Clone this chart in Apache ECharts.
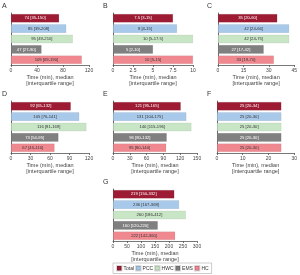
<!DOCTYPE html>
<html><head><meta charset="utf-8">
<script src="https://cdn.jsdelivr.net/npm/echarts@6/dist/echarts.min.js"></script>
<style>html,body{margin:0;padding:0;background:#fff}#c{width:300px;height:275px}</style>
</head><body><div id="c"></div>
<script>
const groups = ['Total', 'PCC', 'HWC', 'EMS', 'HC'];
const colors = ['#9e1b34', '#a9c9ea', '#c8e6c6', '#808080', '#f08890'];
const labelColors = ['#fff', '#333', '#333', '#fff', '#333'];

const panelNames = ['A', 'B', 'C', 'D', 'E', 'F', 'G'];
const medA = [74, 85, 95, 47, 109];
const iqrA = ['35-150', '39-208', '49-210', '27-90', '69-190'];
const medB = [7.5, 8, 10, 5, 10];
const iqrB = ['3-15', '4-15', '5-17.5', '2-10', '5-15'];
const medC = [35, 42, 42, 27, 33];
const iqrC = ['20-60', '24-66', '24-75', '17-42', '19-70'];
const medD = [92, 105, 116, 73, 67];
const iqrD = ['65-132', '76-141', '81-169', '54-95', '45-110'];
const medE = [121, 131, 140, 96, 95];
const iqrE = ['95-165', '104-175', '115-196', '80-132', '80-140'];
const medF = [25, 25, 25, 25, 25];
const iqrF = ['20-34', '20-30', '20-30', '20-30', '20-30'];
const medG = [219, 236, 260, 160, 222];
const iqrG = ['150-332', '167-368', '186-412', '120-220', '142-360'];

const axisMax = [120, 10, 45, 120, 150, 30, 300];
const axisStep = [40, 2.5, 15, 30, 30, 10, 50];

const meds = [medA, medB, medC, medD, medE, medF, medG];
const iqrs = [iqrA, iqrB, iqrC, iqrD, iqrE, iqrF, iqrG];

// layout
const boxes = [
  {left: 11, top: 13, width: 78},
  {left: 113, top: 13, width: 80},
  {left: 218, top: 13, width: 79},
  {left: 11, top: 101, width: 78},
  {left: 113, top: 101, width: 84},
  {left: 217, top: 101, width: 80},
  {left: 113, top: 189, width: 84}
];
const letterPos = [[2, 3], [103, 3], [207, 3], [2, 91], [103, 91], [207, 91], [103, 179]];

const grid = [], xAxis = [], yAxis = [], series = [], graphic = [];
panelNames.forEach((p, k) => {
  const b = boxes[k];
  grid.push({left: b.left, top: b.top, width: b.width, height: 52, containLabel: false});
  xAxis.push({
    type: 'value', gridIndex: k, min: 0, max: axisMax[k], interval: axisStep[k],
    axisLine: {show: true, lineStyle: {color: '#555', width: 0.8}},
    axisTick: {show: true, length: 2, lineStyle: {color: '#555', width: 0.8}},
    splitLine: {show: false},
    axisLabel: {fontSize: 5, color: '#444', margin: 3, fontFamily: 'Liberation Sans'},
    name: 'Time (min), median\n[interquartile range]',
    nameLocation: 'middle', nameGap: 9,
    nameTextStyle: {fontSize: 5.5, color: '#444', lineHeight: 6.5, fontFamily: 'Liberation Sans'}
  });
  yAxis.push({
    type: 'category', gridIndex: k, data: groups, inverse: true,
    axisLine: {show: true, lineStyle: {color: '#444', width: 0.8}},
    axisTick: {show: false}, axisLabel: {show: false}, splitLine: {show: false}
  });
  groups.forEach((g, i) => {
    series.push({
      type: 'bar', name: g, xAxisIndex: k, yAxisIndex: k,
      barGap: '-100%', barWidth: '82%',
      itemStyle: {color: colors[i], borderColor: 'rgba(0,0,0,0.15)', borderWidth: 0.4},
      label: {
        show: true, position: 'inside', fontSize: 4.2, color: labelColors[i],
        fontFamily: 'Liberation Sans',
        formatter: () => meds[k][i] + ' [' + iqrs[k][i] + ']'
      },
      data: groups.map((_, j) => j === i ? meds[k][i] : '-')
    });
  });
  graphic.push({type: 'text', left: letterPos[k][0], top: letterPos[k][1],
    style: {text: p, fontSize: 7, fill: '#333', fontFamily: 'Liberation Sans'}});
});

const chart = echarts.init(document.getElementById('c'), null, {renderer: 'canvas'});
chart.setOption({
  animation: false,
  backgroundColor: '#fff',
  grid, xAxis, yAxis, series, graphic,
  legend: {
    data: groups, left: 113, top: 263, icon: 'rect',
    itemWidth: 4.5, itemHeight: 4.5, itemGap: 1,
    textStyle: {fontSize: 5, color: '#333', padding: [0, 0, 0, -3], fontFamily: 'Liberation Sans'},
    borderColor: '#999', borderWidth: 0.5, padding: [2, 3],
    selectedMode: false
  }
});
</script></body></html>
